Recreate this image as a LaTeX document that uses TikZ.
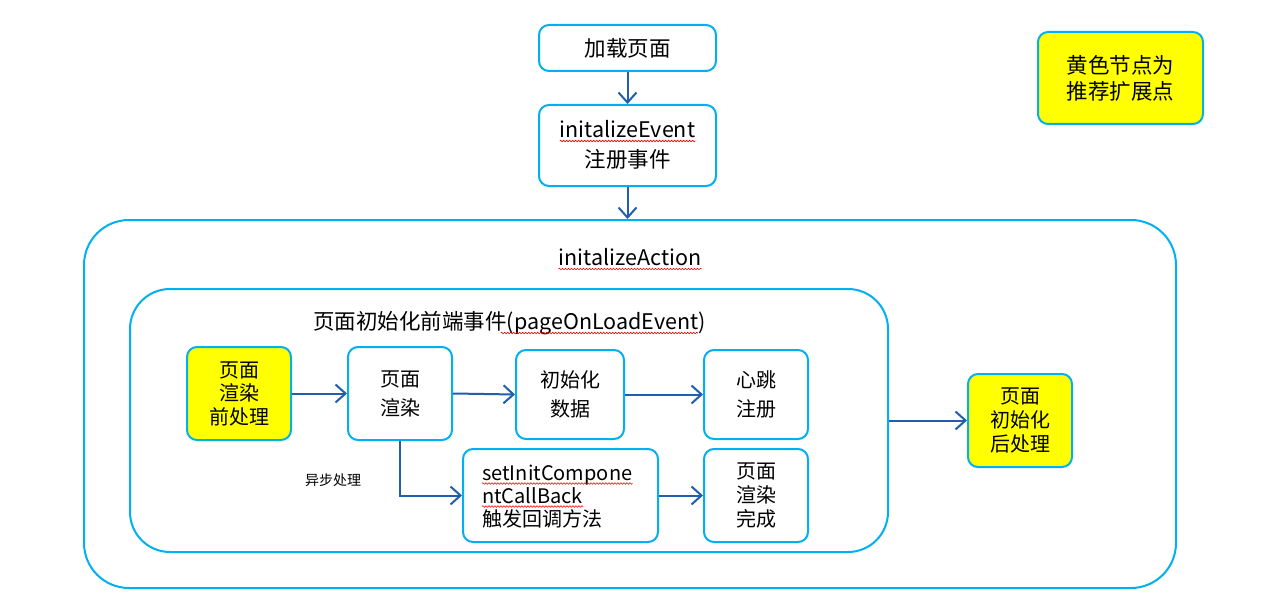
\documentclass[tikz,border=0pt]{standalone}
\usepackage{fontspec}
\setmainfont{Noto Sans CJK SC}
\usetikzlibrary{arrows.meta,decorations.pathmorphing}
\definecolor{bordercyan}{HTML}{00B0F0}
\definecolor{arrowblue}{HTML}{1F5FAD}
\definecolor{hlyellow}{HTML}{FFFF00}
\tikzset{
  box/.style={draw=bordercyan, line width=2pt, rounded corners=10pt, fill=white, inner sep=0pt, align=center, font=\fontsize{20}{24}\selectfont},
  ybox/.style={box, fill=hlyellow},
  wbox/.style={box, font=\fontsize{20}{29}\selectfont},
  frame/.style={draw=bordercyan, line width=2pt, fill=white},
  arr/.style={draw=arrowblue, line width=2pt, -{Straight Barb[length=10pt,width=18pt,line width=2pt]}},
  txt/.style={inner sep=0pt, font=\fontsize{20}{24}\selectfont},
  bigtxt/.style={inner sep=0pt, font=\fontsize{21.5}{26}\selectfont},
  wavy/.style={draw=red, line width=0.6pt, decorate, decoration={snake, segment length=3pt, amplitude=0.8pt}}
}
\begin{document}
\begin{tikzpicture}[x=1pt,y=-1pt]
\useasboundingbox (0,0) rectangle (1282,615);
% containers
\node[frame, rounded corners=45pt, minimum width=1092pt, minimum height=368pt] (act) at (630,404) {};
\node[frame, rounded corners=40pt, minimum width=758pt, minimum height=263pt] (page) at (509,420.5) {};
\node[bigtxt, anchor=base] (actT) at (630,265.5) {initalizeAction};
\node[bigtxt, anchor=base] (pageT) at (509.5,329.5) {页面初始化前端事件(pageOnLoadEvent)};
% top boxes
\node[box, minimum width=177pt, minimum height=46pt, font=\fontsize{21.5}{26}\selectfont] (load) at (627.5,48) {加载页面};
\node[box, minimum width=177pt, minimum height=81pt] (evt) at (627.5,145.5) {};
\node[bigtxt, anchor=base] (evt1) at (627.5,137.5) {initalizeEvent};
\node[bigtxt, anchor=base] (evt2) at (627.5,167.5) {注册事件};
% legend
\node[ybox, minimum width=165pt, minimum height=92pt, font=\fontsize{21.5}{26}\selectfont] (legend) at (1120.5,78) {黄色节点为\\推荐扩展点};
% inner boxes
\node[ybox, minimum width=104pt, minimum height=93pt, font=\fontsize{20}{23.5}\selectfont] (pre) at (239,393.5) {页面\\渲染\\前处理};
\node[wbox, minimum width=104pt, minimum height=93pt] (render) at (400,393.5) {页面\\渲染};
\node[wbox, minimum width=108pt, minimum height=89pt] (init) at (570,394.5) {初始化\\数据};
\node[wbox, minimum width=104pt, minimum height=89pt] (hb) at (756,394.5) {心跳\\注册};
\node[box, minimum width=195pt, minimum height=93pt] (setcb) at (560.5,495.5) {};
\node[txt, anchor=base west] (cb1) at (482,480) {setInitCompone};
\node[txt, anchor=base west] (cb2) at (482,503) {ntCallBack};
\node[txt, anchor=base west] (cb3) at (482,526) {触发回调方法};
\node[box, minimum width=104pt, minimum height=93pt] (done) at (756,495.5) {页面\\渲染\\完成};
\node[ybox, minimum width=104pt, minimum height=93pt] (post) at (1020,420.5) {页面\\初始化\\后处理};
\node[inner sep=0pt, font=\fontsize{14}{16}\selectfont] (async) at (333,480) {异步处理};
% spell-check underlines
\draw[wavy] ([yshift=-3.5pt]evt1.base west) -- ([yshift=-3.5pt]evt1.base east);
\draw[wavy] ([yshift=-3.5pt]actT.base west) -- ([yshift=-3.5pt]actT.base east);
\draw[wavy] ([xshift=-205pt,yshift=-3.5pt]pageT.base east) -- ([xshift=-8pt,yshift=-3.5pt]pageT.base east);
\draw[wavy] ([yshift=-3.5pt]cb1.base west) -- ([yshift=-3.5pt]cb1.base east);
\draw[wavy] ([yshift=-3.5pt]cb2.base west) -- ([yshift=-3.5pt]cb2.base east);
% arrows
\draw[arr] (load.south) -- (evt.north);
\draw[arr] (evt.south) -- (evt.south |- act.north);
\draw[arr] (pre.east) -- (render.west);
\draw[arr] (render.east) -- (init.west);
\draw[arr] (init.east) -- (hb.west);
\draw[arr] (render.south) |- (setcb.west);
\draw[arr] (setcb.east) -- (done.west);
\draw[arr] (page.east) -- (post.west);
\end{tikzpicture}
\end{document}
